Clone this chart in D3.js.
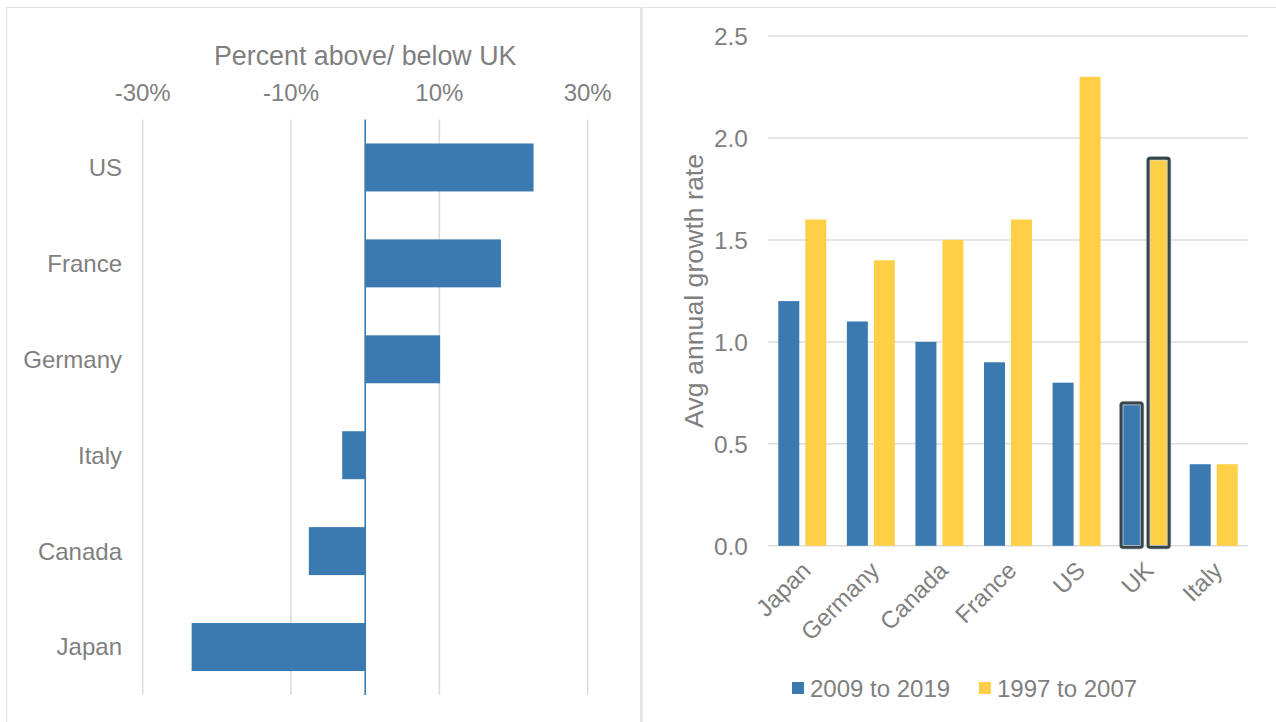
<!DOCTYPE html>
<html>
<head>
<meta charset="utf-8">
<script src="https://cdn.jsdelivr.net/npm/d3@7/dist/d3.min.js"></script>
<style>
  html, body { margin: 0; padding: 0; background: #ffffff; }
  svg { display: block; font-family: "Liberation Sans", Arial, sans-serif; }
</style>
</head>
<body>
<svg id="chart" width="1276" height="722"></svg>
<script>
// Left panel: productivity level relative to the UK (percent)
const levelCountries = ["US", "France", "Germany", "Italy", "Canada", "Japan"];
const levelValues = [22.7, 18.3, 10.1, -3.1, -7.6, -23.4];
const levelTicks = [-30, -10, 10, 30];

// Right panel: average annual growth rate by period
const growthCountries = ["Japan", "Germany", "Canada", "France", "US", "UK", "Italy"];
const growth2009to2019 = [1.2, 1.1, 1.0, 0.9, 0.8, 0.7, 0.4];
const growth1997to2007 = [1.6, 1.4, 1.5, 1.6, 2.3, 1.9, 0.4];
const growthTicks = [0, 0.5, 1.0, 1.5, 2.0, 2.5];
const seriesNames = ["2009 to 2019", "1997 to 2007"];
const highlighted = "UK";

const BLUE = "#3a7ab1";
const YELLOW = "#ffcf47";
const TEXT = "#7f7f7f";
const GRID = "#dcdcdc";

const svg = d3.select("#chart");

// Panel frames
const frame = svg.append("g");
frame.append("line").attr("x1", 6).attr("x2", 1276).attr("y1", 7.5).attr("y2", 7.5)
  .attr("stroke", "#e2e2e2").attr("stroke-width", 1.2);
frame.append("line").attr("x1", 6.5).attr("x2", 6.5).attr("y1", 7).attr("y2", 722)
  .attr("stroke", "#e2e2e2").attr("stroke-width", 1.2);
frame.append("rect").attr("x", 640).attr("y", 7).attr("width", 3).attr("height", 715)
  .attr("fill", "#e6e6e6");

// ---------- Left panel: horizontal bars ----------
const left = svg.append("g");
const xL = d3.scaleLinear().domain([-30, 30]).range([142.7, 587.7]);
const yL = d3.scaleBand().domain(levelCountries).range([119.5, 695])
  .paddingInner(0.5).paddingOuter(0.25);

left.append("g").selectAll("line").data(levelTicks).join("line")
  .attr("x1", d => xL(d)).attr("x2", d => xL(d))
  .attr("y1", 119.5).attr("y2", 695)
  .attr("stroke", GRID).attr("stroke-width", 1.5);

left.append("g").selectAll("text").data(levelTicks).join("text")
  .attr("x", d => xL(d)).attr("y", 101)
  .attr("text-anchor", "middle")
  .attr("fill", TEXT).attr("font-size", 24)
  .text(d => String(d) + "%");

left.append("text")
  .attr("x", xL(0)).attr("y", 65)
  .attr("text-anchor", "middle")
  .attr("fill", TEXT).attr("font-size", 26.8)
  .text("Percent above/ below UK");

left.append("g").selectAll("rect").data(levelCountries).join("rect")
  .attr("x", (d, i) => xL(Math.min(0, levelValues[i])))
  .attr("width", (d, i) => Math.abs(xL(levelValues[i]) - xL(0)))
  .attr("y", d => yL(d))
  .attr("height", yL.bandwidth())
  .attr("fill", BLUE);

left.append("line")
  .attr("x1", xL(0)).attr("x2", xL(0)).attr("y1", 119.5).attr("y2", 695)
  .attr("stroke", BLUE).attr("stroke-width", 1.6);

left.append("g").selectAll("text").data(levelCountries).join("text")
  .attr("x", 122).attr("y", d => yL(d) + yL.bandwidth() / 2)
  .attr("dy", "0.35em")
  .attr("text-anchor", "end")
  .attr("fill", TEXT).attr("font-size", 24)
  .text(d => d);

// ---------- Right panel: grouped columns ----------
const right = svg.append("g");
const yR = d3.scaleLinear().domain([0, 2.5]).range([545.8, 36]);
const xR = d3.scaleBand().domain(growthCountries).range([768, 1248])
  .paddingInner(0.3).paddingOuter(0.15);
const xSub = d3.scaleBand().domain([0, 1]).range([0, xR.bandwidth()])
  .paddingInner(6 / 27);

right.append("g").selectAll("line").data(growthTicks).join("line")
  .attr("x1", 768).attr("x2", 1248)
  .attr("y1", d => yR(d)).attr("y2", d => yR(d))
  .attr("stroke", GRID).attr("stroke-width", 1.5);

right.append("g").selectAll("text").data(growthTicks).join("text")
  .attr("x", 748).attr("y", d => yR(d))
  .attr("dy", "0.36em")
  .attr("text-anchor", "end")
  .attr("fill", TEXT).attr("font-size", 24.5)
  .text(d => d3.format(".1f")(d));

right.append("text")
  .attr("transform", `translate(703, ${(yR(0) + yR(2.5)) / 2}) rotate(-90)`)
  .attr("text-anchor", "middle")
  .attr("fill", TEXT).attr("font-size", 26.7)
  .text("Avg annual growth rate");

const series = [growth2009to2019, growth1997to2007];
const colors = [BLUE, YELLOW];

series.forEach((vals, s) => {
  const g = right.append("g");
  g.selectAll("rect").data(growthCountries).join("rect")
    .attr("x", d => xR(d) + xSub(s))
    .attr("width", xSub.bandwidth())
    .attr("y", (d, i) => yR(vals[i]))
    .attr("height", (d, i) => yR(0) - yR(vals[i]))
    .attr("fill", colors[s]);

  // Outline the highlighted country
  const k = growthCountries.indexOf(highlighted);
  g.append("rect")
    .attr("x", xR(highlighted) + xSub(s))
    .attr("width", xSub.bandwidth())
    .attr("y", yR(vals[k]))
    .attr("height", yR(0) - yR(vals[k]) + 1.5)
    .attr("rx", 2)
    .attr("fill", "none")
    .attr("stroke", "#d4d8da").attr("stroke-width", 4.5);
  g.append("rect")
    .attr("x", xR(highlighted) + xSub(s))
    .attr("width", xSub.bandwidth())
    .attr("y", yR(vals[k]))
    .attr("height", yR(0) - yR(vals[k]) + 1.5)
    .attr("rx", 2)
    .attr("fill", "none")
    .attr("stroke", "#37454e").attr("stroke-width", 3);
});

right.append("g").selectAll("text").data(growthCountries).join("text")
  .attr("transform", d => `translate(${xR(d) + xR.bandwidth() / 2 + 10}, 572) rotate(-45)`)
  .attr("text-anchor", "end")
  .attr("fill", TEXT).attr("font-size", 24)
  .text(d => d);

// Legend
const legend = right.append("g");
const legendX = [792, 979];
seriesNames.forEach((name, i) => {
  legend.append("rect")
    .attr("x", legendX[i]).attr("y", 682)
    .attr("width", 12).attr("height", 12)
    .attr("fill", colors[i]);
  legend.append("text")
    .attr("x", legendX[i] + 18).attr("y", 697)
    .attr("fill", TEXT).attr("font-size", 24)
    .text(name);
});
</script>
</body>
</html>
